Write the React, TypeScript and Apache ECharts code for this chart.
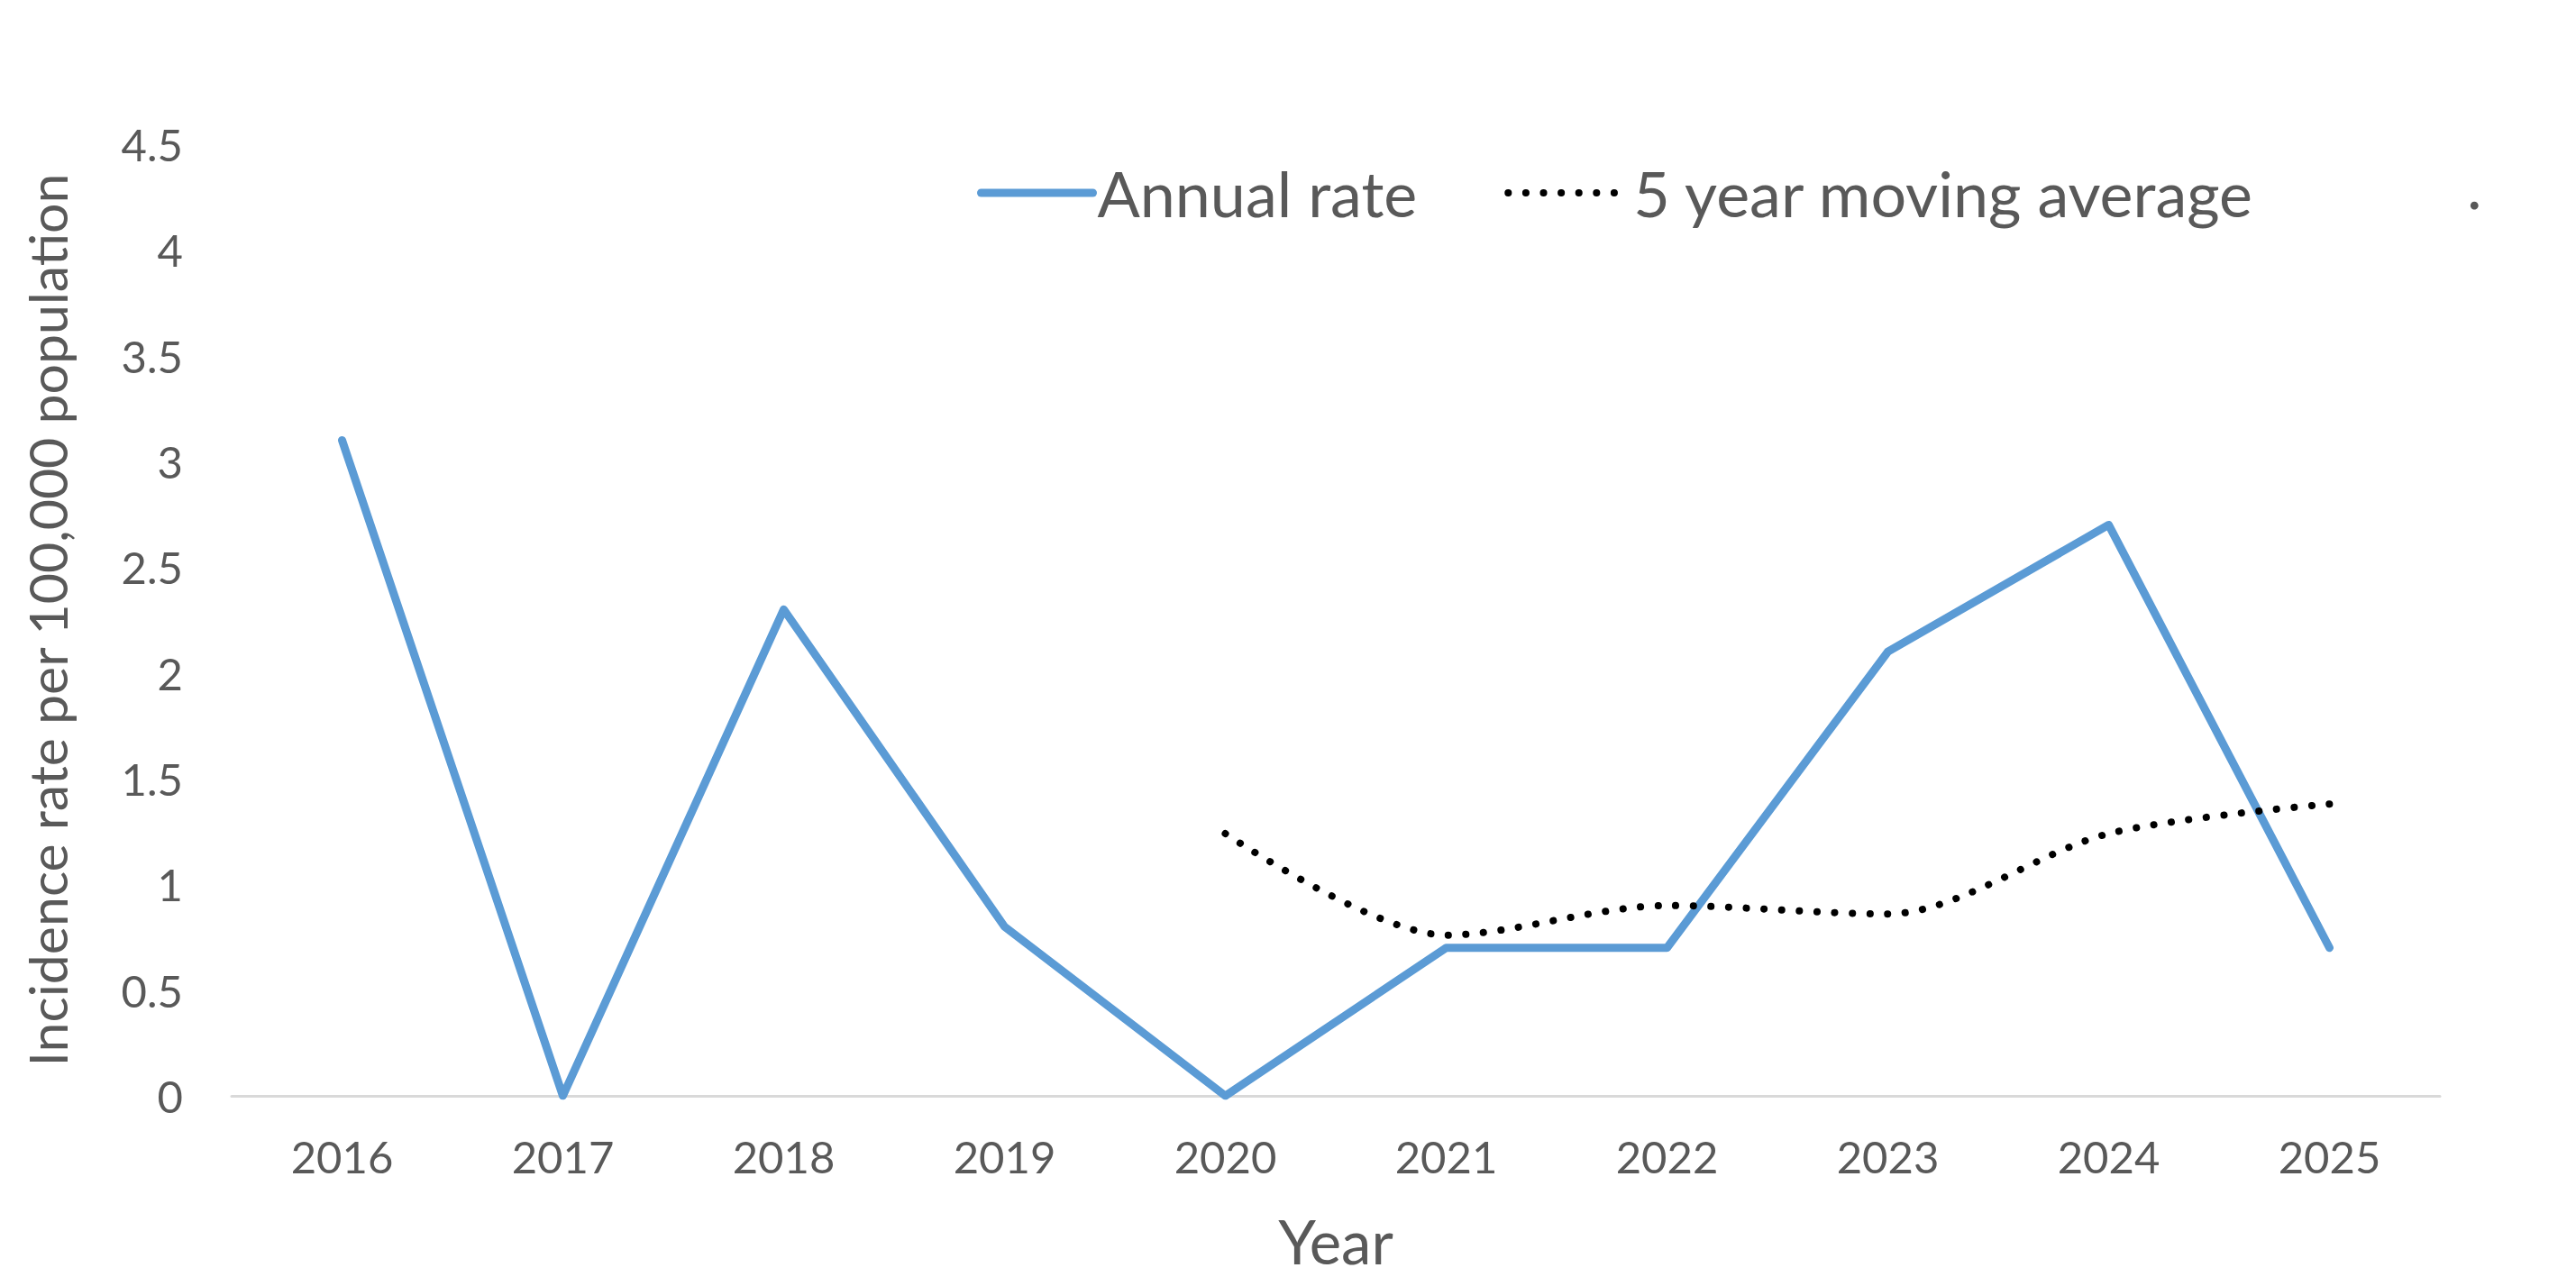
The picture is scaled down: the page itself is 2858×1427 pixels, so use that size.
import { useEffect, useRef } from "react";
import * as echarts from "echarts";

const YEARS = ["2016", "2017", "2018", "2019", "2020", "2021", "2022", "2023", "2024", "2025"];
const ANNUAL_RATE = [3.1, 0, 2.3, 0.8, 0, 0.7, 0.7, 2.1, 2.7, 0.7];
const MOVING_AVG = [null, null, null, null, 1.24, 0.76, 0.9, 0.86, 1.24, 1.38];

const FONT = "Lato, 'Open Sans', sans-serif";
const TEXT_COLOR = "#595959";
const BLUE = "#5b9bd5";
const DOTS = [0.1, 19.5];

export default function App() {
  const chartRef = useRef<HTMLDivElement>(null);

  useEffect(() => {
    document.body.style.margin = "0";
    if (!chartRef.current) return;
    const chart = echarts.init(chartRef.current, undefined, { renderer: "svg" });

    chart.setOption({
      animation: false,
      backgroundColor: "#fff",
      textStyle: { fontFamily: FONT },
      grid: { left: 257, right: 151, top: 160, bottom: 211 },
      legend: {
        left: 1079,
        top: 174,
        itemWidth: 124,
        itemHeight: 14,
        itemGap: 97,
        itemStyle: { opacity: 0 },
        textStyle: { fontFamily: FONT, fontSize: 70, color: TEXT_COLOR },
        data: [
          { name: "Annual rate", lineStyle: { width: 9, color: BLUE, cap: "round" } },
          {
            name: "5 year moving average",
            lineStyle: { width: 8, color: "#000", type: DOTS, cap: "round" },
            textStyle: { padding: [0, 0, 0, 10] },
          },
        ],
      },
      graphic: [
        {
          type: "text",
          left: 2737,
          top: 170,
          style: { text: ".", fontFamily: FONT, fontSize: 70, fill: TEXT_COLOR },
        },
      ],
      xAxis: {
        type: "category",
        data: YEARS,
        boundaryGap: true,
        axisLine: { show: true, lineStyle: { color: "#d9d9d9", width: 3 } },
        axisTick: { show: false },
        axisLabel: { fontFamily: FONT, fontSize: 49, color: TEXT_COLOR, margin: 42 },
        name: "Year",
        nameLocation: "middle",
        nameGap: 127,
        nameTextStyle: { fontFamily: FONT, fontSize: 67, color: TEXT_COLOR },
      },
      yAxis: {
        type: "value",
        min: 0,
        max: 4.5,
        interval: 0.5,
        splitLine: { show: false },
        axisLine: { show: false },
        axisTick: { show: false },
        axisLabel: { fontFamily: FONT, fontSize: 49, color: TEXT_COLOR, margin: 54 },
        name: "Incidence rate per 100,000 population",
        nameLocation: "middle",
        nameRotate: 90,
        nameGap: 175,
        nameTextStyle: { fontFamily: FONT, fontSize: 59, color: TEXT_COLOR },
      },
      series: [
        {
          name: "Annual rate",
          type: "line",
          data: ANNUAL_RATE,
          symbol: "none",
          lineStyle: { color: BLUE, width: 9, cap: "round", join: "round" },
          itemStyle: { color: BLUE },
        },
        {
          name: "5 year moving average",
          type: "line",
          data: MOVING_AVG,
          symbol: "none",
          smooth: 0.3,
          lineStyle: { color: "#000", width: 8, type: DOTS, cap: "round" },
          itemStyle: { color: "#000" },
        },
      ],
    });

    return () => chart.dispose();
  }, []);

  return <div ref={chartRef} style={{ width: "2858px", height: "1427px" }} />;
}
